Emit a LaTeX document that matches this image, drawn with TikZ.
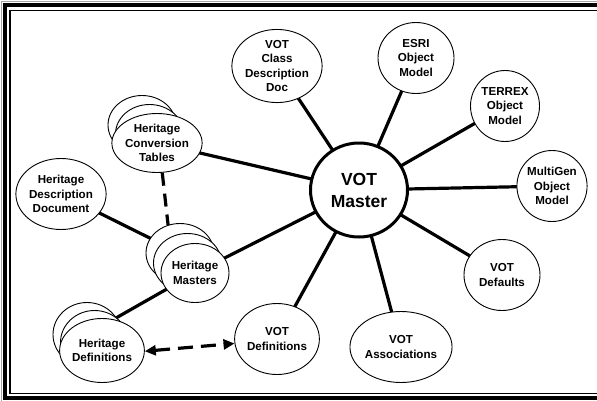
\documentclass[tikz,border=0pt]{standalone}
\usepackage{fontspec}
\setmainfont{Liberation Sans}
\usetikzlibrary{shapes.geometric,arrows.meta}
\pgfdeclarelayer{background}
\pgfsetlayers{background,main}
\tikzset{
  bub/.style={ellipse,draw=black,line width=0.9pt,fill=white,inner sep=0pt,align=center,
    font=\bfseries\fontsize{11.6}{14.5}\selectfont},
  big/.style={bub,minimum width=76pt,minimum height=71pt},
  stk/.style={bub,minimum width=68pt,minimum height=59pt},
  conn/.style={line width=3.2pt},
  dsh/.style={line width=3.2pt,dash pattern=on 13pt off 8pt},
}
\begin{document}
\begin{tikzpicture}[x=1pt,y=-1pt]
\useasboundingbox (0,0) rectangle (597,400);
% frame
\draw[gray!70,line width=0.8pt] (1.5,1.5) rectangle (630,405);
\draw[black,line width=4.5pt] (4.75,4.75) rectangle (625,398);
\draw[black,line width=1.1pt] (10,10.5) rectangle (620,393.5);

% central node
\node[ellipse,draw,line width=3pt,fill=white,minimum width=97pt,minimum height=94pt,inner sep=0pt,align=center,
  font=\bfseries\fontsize{17.5}{22}\selectfont] (master) at (359,190) {VOT\\Master};

\node[big] (vcd) at (277,66) {VOT\\Class\\Description\\Doc};
\node[big] (esri) at (416,58) {ESRI\\Object\\Model};
\node[big,minimum width=69pt] (terrex) at (505,106) {TERREX\\Object\\Model};
\node[big,minimum width=69pt] (multigen) at (552,186) {MultiGen\\Object\\Model};
\node[big] (defaults) at (502,275) {VOT\\Defaults};
\node[big] (assoc) at (401,347) {VOT\\Associations};
\node[big] (vdef) at (277,339) {VOT\\Definitions};
\node[big] (hdd) at (61,194) {Heritage\\Description\\Document};

% stacks
\node[stk] (convB) at (142,125) {};
\node[stk] (convM) at (149.5,134) {};
\node[stk] (conv) at (157,143) {Heritage\\Conversion\\Tables};

\node[stk] (hmB) at (180,253) {};
\node[stk] (hmM) at (187.5,263) {};
\node[stk] (hm) at (195,273) {Heritage\\Masters};

\node[stk,minimum height=64pt] (hdefB) at (87,334.5) {};
\node[stk,minimum height=64pt] (hdefM) at (94.5,342.5) {};
\node[stk,minimum height=64pt] (hdef) at (102,350.5) {Heritage\\Definitions};

\begin{pgfonlayer}{background}
\foreach \n in {vcd,esri,terrex,multigen,defaults,assoc,vdef,hm,conv}
  \draw[conn] (master.center) -- (\n.center);
\draw[conn] (hdd.center) -- (hmB.center);
\draw[conn] (hm.center) -- (hdefB.center);
\end{pgfonlayer}

\draw[dsh] (conv.-80) -- (hmB.113);
\draw[line width=3.2pt,dash pattern=on 15pt off 8pt,{Triangle[length=11pt,width=10pt]}-{Triangle[length=11pt,width=10pt]}]
  (hdef.-1) -- (vdef.186);
\end{tikzpicture}
\end{document}
